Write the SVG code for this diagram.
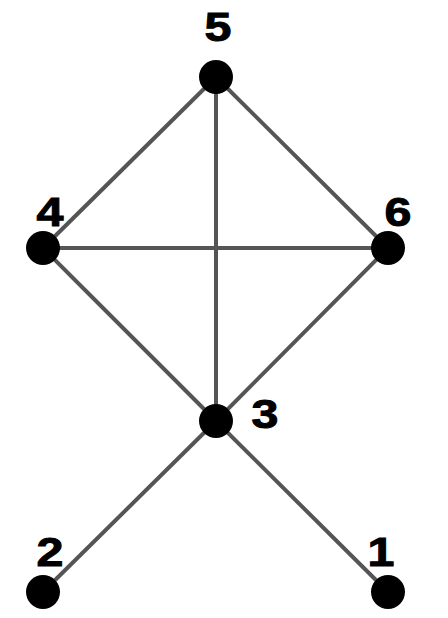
<svg xmlns="http://www.w3.org/2000/svg" width="448" height="618" viewBox="0 0 448 618">
<style>
.e{stroke:#555;stroke-width:4;fill:none}
.n{fill:#000}
.l{font-family:"Liberation Sans",Arial,sans-serif;font-weight:bold;font-size:41px;fill:#000;stroke:#000;stroke-width:1;text-anchor:middle}
</style>
<rect width="448" height="618" fill="#fff"/>
<g id="edges">
<line class="e" x1="216" y1="77" x2="43" y2="248"/>
<line class="e" x1="216" y1="77" x2="388" y2="248"/>
<line class="e" x1="216" y1="77" x2="216" y2="421"/>
<line class="e" x1="43" y1="248" x2="388" y2="248"/>
<line class="e" x1="43" y1="248" x2="216" y2="421"/>
<line class="e" x1="388" y1="248" x2="216" y2="421"/>
<line class="e" x1="216" y1="421" x2="43" y2="592"/>
<line class="e" x1="216" y1="421" x2="388" y2="592"/>
</g>
<g id="node5"><circle class="n" cx="216" cy="77" r="17"/><text class="l" transform="translate(218,41) scale(1.18,1)">5</text></g>
<g id="node4"><circle class="n" cx="43" cy="248" r="17"/><text class="l" transform="translate(50,226) scale(1.18,1)">4</text></g>
<g id="node6"><circle class="n" cx="388" cy="248" r="17"/><text class="l" transform="translate(398,226) scale(1.18,1)">6</text></g>
<g id="node3"><circle class="n" cx="216" cy="421" r="17"/><text class="l" transform="translate(265,428) scale(1.18,1)">3</text></g>
<g id="node2"><circle class="n" cx="43" cy="592" r="17"/><text class="l" transform="translate(50,566) scale(1.18,1)">2</text></g>
<g id="node1"><circle class="n" cx="388" cy="592" r="17"/><text class="l" transform="translate(381,566) scale(1.18,1)">1</text></g>
</svg>
